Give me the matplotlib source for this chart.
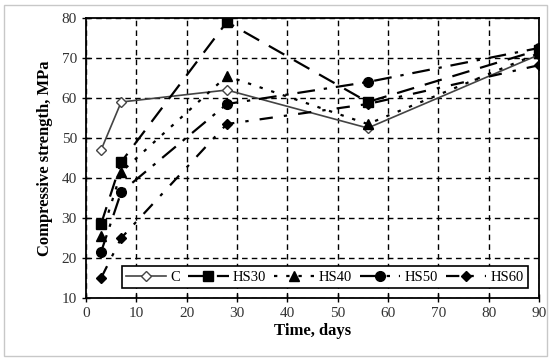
import matplotlib
matplotlib.use("Agg")
import matplotlib.pyplot as plt
from matplotlib.patches import Rectangle

days = [3, 7, 28, 56, 90]
C = [47, 59, 62, 52.5, 70.8]
HS30 = [28.5, 44, 79, 59, 72]
HS40 = [25.5, 41.5, 65.5, 53.5, 71.2]
HS50 = [21.5, 36.5, 58.5, 64, 72.5]
HS60 = [15, 25, 53.5, 58.5, 68.2]

plt.rcParams['font.family'] = ['Liberation Serif', 'DejaVu Serif']

fig = plt.figure(figsize=(5.51, 3.6), dpi=100)
ax = fig.add_axes([0.156, 0.172, 0.822, 0.778])
fig.patches.append(Rectangle((0.008, 0.012), 0.984, 0.975, transform=fig.transFigure,
                             fill=False, edgecolor='#c8c8c8', lw=1.0))

ax.plot(days, C, color='#444444', lw=1.2, ls='-', marker='D', ms=5,
        mfc='white', mec='#444444', mew=1.0, label='C')
ax.plot(days, HS30, color='black', lw=1.6, ls=(0, (8, 5)), marker='s', ms=7,
        label='HS30')
ax.plot(days, HS40, color='black', lw=1.6, ls=(0, (1.5, 4)), marker='^', ms=7,
        label='HS40')
ax.plot(days, HS50, color='black', lw=1.6, ls=(0, (8, 4, 1.5, 4)), marker='o', ms=7,
        label='HS50')
ax.plot(days, HS60, color='black', lw=1.6, ls=(0, (6, 5, 1.5, 5)), marker='D', ms=5,
        label='HS60')

ax.set_xlim(0, 90)
ax.set_ylim(10, 80)
ax.set_xticks(range(0, 91, 10))
ax.set_yticks(range(10, 81, 10))
ax.grid(True, color='black', ls=(0, (4, 3)), lw=1.0)
ax.tick_params(direction='inout', length=6, width=1, labelsize=11, colors='black',
               labelcolor='#333333')
for s in ax.spines.values():
    s.set_linewidth(1.3)

ax.set_xlabel('Time, days', fontsize=12, fontweight='bold', labelpad=2)
ax.set_ylabel('Compressive strength, MPa', fontsize=12, fontweight='bold', labelpad=6)

leg = ax.legend(loc='lower right', bbox_to_anchor=(0.976, 0.036), ncol=5, fontsize=10.5,
                frameon=True, fancybox=False, edgecolor='black', framealpha=1,
                handlelength=2.75, handletextpad=0.3, columnspacing=0.55,
                borderpad=0.3, borderaxespad=0)
leg.get_frame().set_linewidth(1.2)

fig.savefig('out.png', dpi=100)
